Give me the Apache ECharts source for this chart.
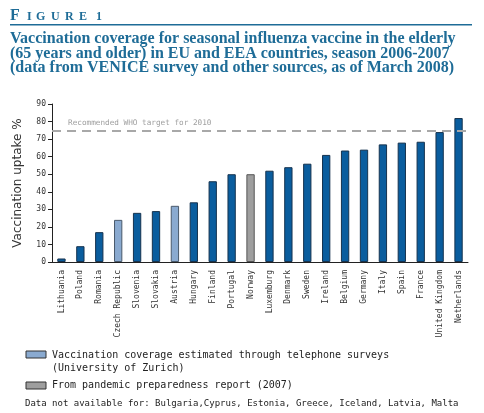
<!DOCTYPE html>
<html>
<head>
<meta charset="utf-8">
<title>Figure 1</title>
<script src="https://cdn.jsdelivr.net/npm/echarts@6/dist/echarts.min.js"></script>
<style>
  html, body { margin: 0; padding: 0; background: #fff; }
  #main { width: 484px; height: 413px; }
</style>
</head>
<body>
<div id="main"></div>
<script>
// data
var countries = ['Lithuania', 'Poland', 'Romania', 'Czech Republic', 'Slovenia', 'Slovakia',
  'Austria', 'Hungary', 'Finland', 'Portugal', 'Norway', 'Luxemburg', 'Denmark', 'Sweden',
  'Ireland', 'Belgium', 'Germany', 'Italy', 'Spain', 'France', 'United Kingdom', 'Netherlands'];
var uptake = [2, 9, 17, 24, 28, 29, 32, 34, 46, 50, 50, 52, 54, 56, 61, 63.5, 64, 67, 68, 68.5, 74, 82];
// nat = national data, tel = telephone surveys, pand = pandemic preparedness report
var source = ['nat', 'nat', 'nat', 'tel', 'nat', 'nat', 'tel', 'nat', 'nat', 'nat', 'pand', 'nat',
  'nat', 'nat', 'nat', 'nat', 'nat', 'nat', 'nat', 'nat', 'nat', 'nat'];
var whoTarget = 75;
var yTicks = [0, 90, 10]; // min, max, interval

var fill = { nat: '#0a5d9e', tel: '#8aaad0', pand: '#9e9e9e' };
var edge = { nat: '#16334f', tel: '#4a5a6c', pand: '#555555' };

var mono = '"DejaVu Sans Mono", monospace';
var serif = '"Liberation Serif", serif';
var titleBlue = '#1e6c97';

var barData = uptake.map(function (v, i) {
  return {
    value: v,
    itemStyle: { color: fill[source[i]], borderColor: edge[source[i]], borderWidth: 1 }
  };
});

// "FIGURE 1" in spaced small caps, one letter at a time, sitting on y = 20
var figLetters = [['F', 10, 16], ['I', 27, 12], ['G', 36, 12], ['U', 51, 12], ['R', 65, 12], ['E', 79, 12], ['1', 96, 12]];
var graphics = figLetters.map(function (l) {
  return { type: 'text', x: l[1], y: 20 + l[2] * 0.22,
    style: { text: l[0], fontFamily: serif, fontWeight: 'bold', fontSize: l[2],
      verticalAlign: 'bottom', fill: titleBlue } };
});

graphics = graphics.concat([
  { type: 'rect', shape: { x: 10, y: 24, width: 462, height: 1.5 }, style: { fill: titleBlue } },
  { type: 'text', left: 10, top: 31,
    style: {
      text: 'Vaccination coverage for seasonal influenza vaccine in the elderly\n' +
            '(65 years and older) in EU and EEA countries, season 2006-2007\n' +
            '(data from VENICE survey and other sources, as of March 2008)',
      fontFamily: serif, fontWeight: 'bold', fontSize: 16,
      lineHeight: 14.5, fill: titleBlue
    } },
  { type: 'rect', shape: { x: 26, y: 351, width: 20, height: 7 },
    style: { fill: fill.tel, stroke: '#333', lineWidth: 1 } },
  { type: 'text', left: 52, top: 349,
    style: { text: 'Vaccination coverage estimated through telephone surveys\n(University of Zurich)',
      fontFamily: mono, fontSize: 10, lineHeight: 13, fill: '#222' } },
  { type: 'rect', shape: { x: 26, y: 382, width: 20, height: 7 },
    style: { fill: fill.pand, stroke: '#333', lineWidth: 1 } },
  { type: 'text', left: 52, top: 380,
    style: { text: 'From pandemic preparedness report (2007)',
      fontFamily: mono, fontSize: 10, fill: '#222' } },
  { type: 'text', left: 25, top: 399,
    style: { text: 'Data not available for: Bulgaria,Cyprus, Estonia, Greece, Iceland, Latvia, Malta',
      fontFamily: mono, fontSize: 9, fill: '#222' } }
]);

var chart = echarts.init(document.getElementById('main'));

var option = {
  animation: false,
  grid: { left: 52, right: 16, top: 104, bottom: 151 },
  xAxis: {
    type: 'category',
    data: countries,
    axisLine: { lineStyle: { color: '#222', width: 1 } },
    axisTick: { alignWithLabel: false, length: 4, lineStyle: { color: '#222' } },
    axisLabel: { rotate: 90, interval: 0, fontFamily: mono, fontSize: 8, color: '#333', margin: 8 }
  },
  yAxis: {
    type: 'value',
    min: yTicks[0],
    max: yTicks[1],
    interval: yTicks[2],
    name: 'Vaccination uptake %',
    nameLocation: 'middle',
    nameGap: 28,
    nameTextStyle: { fontFamily: '"DejaVu Sans", sans-serif', fontSize: 12, color: '#333' },
    axisLine: { show: true, lineStyle: { color: '#222', width: 1 } },
    axisTick: { show: true, length: 4, lineStyle: { color: '#222' } },
    axisLabel: { fontFamily: mono, fontSize: 8, color: '#333', margin: 6 },
    splitLine: { show: false }
  },
  series: [{
    type: 'bar',
    data: barData,
    barWidth: '44%',
    markLine: {
      silent: true,
      symbol: 'none',
      lineStyle: { type: [9, 6], color: '#a8a8a8', width: 2 },
      label: {
        position: 'insideStartTop',
        formatter: 'Recommended WHO target for 2010',
        fontFamily: mono, fontSize: 7.7, color: '#a0a0a0', distance: [16, 3]
      },
      data: [{ yAxis: whoTarget }]
    }
  }],
  graphic: graphics
};

chart.setOption(option);
</script>
</body>
</html>
